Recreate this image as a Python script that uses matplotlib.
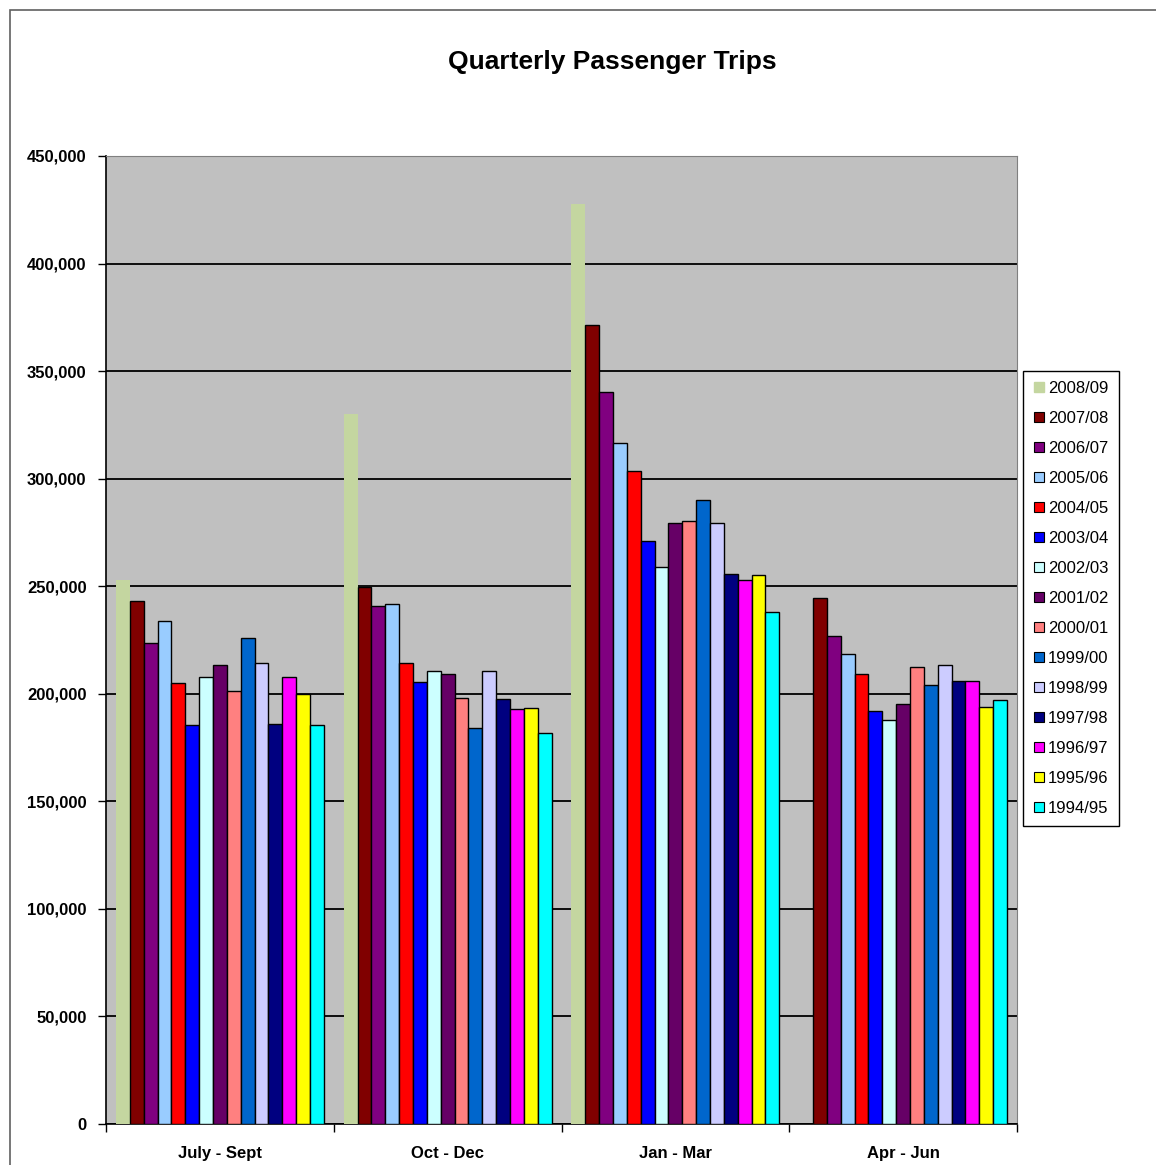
import matplotlib.pyplot as plt
import matplotlib.patches as mpatches
from matplotlib.lines import Line2D
import numpy as np
from matplotlib.ticker import FuncFormatter

plt.rcParams['font.family'] = ['Liberation Sans', 'DejaVu Sans']

quarters = ['July - Sept', 'Oct - Dec', 'Jan - Mar', 'Apr - Jun']
years = ['2008/09', '2007/08', '2006/07', '2005/06', '2004/05', '2003/04', '2002/03',
         '2001/02', '2000/01', '1999/00', '1998/99', '1997/98', '1996/97', '1995/96', '1994/95']

t2008 = [253000, 330000, 427500, np.nan]
t2007 = [243300, 249700, 371400, 244700]
t2006 = [223800, 240600, 340200, 226700]
t2005 = [233800, 241700, 316400, 218300]
t2004 = [205000, 214500, 303700, 209000]
t2003 = [185500, 205500, 271000, 192200]
t2002 = [208000, 210600, 259100, 188000]
t2001 = [213300, 209000, 279600, 195300]
t2000 = [201300, 198100, 280500, 212400]
t1999 = [225800, 183900, 290100, 204300]
t1998 = [214300, 210600, 279600, 213500]
t1997 = [186000, 197700, 255700, 205900]
t1996 = [208000, 192700, 252900, 205900]
t1995 = [199700, 193400, 255300, 193800]
t1994 = [185500, 181600, 237900, 196900]

series = [t2008, t2007, t2006, t2005, t2004, t2003, t2002,
          t2001, t2000, t1999, t1998, t1997, t1996, t1995, t1994]
colors = ['#C4D6A0', '#800000', '#800080', '#99CCFF', '#FF0000', '#0000FF', '#CCFFFF',
          '#660066', '#FF8080', '#0066CC', '#CCCCFF', '#000080', '#FF00FF', '#FFFF00', '#00FFFF']

fig = plt.figure(figsize=(11.56, 11.65), dpi=100)

# chart area frame (cropped on the right and bottom)
fig.patches.append(mpatches.Rectangle((10/1156, -0.1), 1.2, 1 - 10/1165 + 0.1,
                                      transform=fig.transFigure, fill=False,
                                      edgecolor='#606060', linewidth=1.2))

ax = fig.add_axes([106/1156, 1 - 1124/1165, 911/1156, 968/1165])
ax.set_facecolor('#C0C0C0')

x = np.arange(len(quarters))
w = 0.9125 / len(series)
handles = []
for i, vals in enumerate(series):
    if i == 0:
        ax.bar(x + (i - 7) * w, vals, w, color=colors[i], edgecolor='none', zorder=3)
        handles.append(Line2D([], [], marker='s', markersize=6.5, color=colors[i],
                              markeredgecolor=colors[i], linestyle='none'))
    else:
        ax.bar(x + (i - 7) * w, vals, w, color=colors[i], edgecolor='black',
               linewidth=1.0, zorder=3)
        handles.append(Line2D([], [], marker='s', markersize=6.5, color=colors[i],
                              markeredgecolor='black', markeredgewidth=0.8, linestyle='none'))

ax.set_xlim(-0.5, 3.5)
ax.set_ylim(0, 450000)
ax.set_yticks(np.arange(0, 450001, 50000))
ax.yaxis.set_major_formatter(FuncFormatter(lambda v, p: '{:,.0f}'.format(v)))
ax.grid(True, axis='y', color='black', linewidth=1.3, zorder=1)
ax.set_axisbelow(True)

ax.set_xticks(x)
ax.set_xticklabels(quarters)
ax.set_xticks(np.arange(-0.5, 3.6, 1), minor=True)
ax.tick_params(axis='x', which='major', length=0, pad=16)
ax.tick_params(axis='x', which='minor', length=6, width=1, direction='out')
ax.tick_params(axis='y', length=6, width=1, direction='out', pad=8)
for lab in ax.get_xticklabels() + ax.get_yticklabels():
    lab.set_fontweight('bold')
    lab.set_fontsize(12)

ax.spines['left'].set_color('black')
ax.spines['bottom'].set_color('black')
ax.spines['left'].set_linewidth(1.2)
ax.spines['bottom'].set_linewidth(1.2)
ax.spines['top'].set_color('#808080')
ax.spines['right'].set_color('#808080')

fig.text(612/1156, 1 - 62/1165, 'Quarterly Passenger Trips', ha='center', va='center',
         fontsize=19, fontweight='bold')

leg = ax.legend(handles, years, loc='upper left', bbox_to_anchor=(1023/1156, 1 - 371/1165),
                bbox_transform=fig.transFigure, fontsize=12, frameon=True,
                fancybox=False, edgecolor='black', framealpha=1,
                handlelength=0.7, handletextpad=0.2,
                labelspacing=0.9, borderpad=0.6, borderaxespad=0)
leg.get_frame().set_linewidth(1.0)

plt.savefig('out.png', dpi=100)
